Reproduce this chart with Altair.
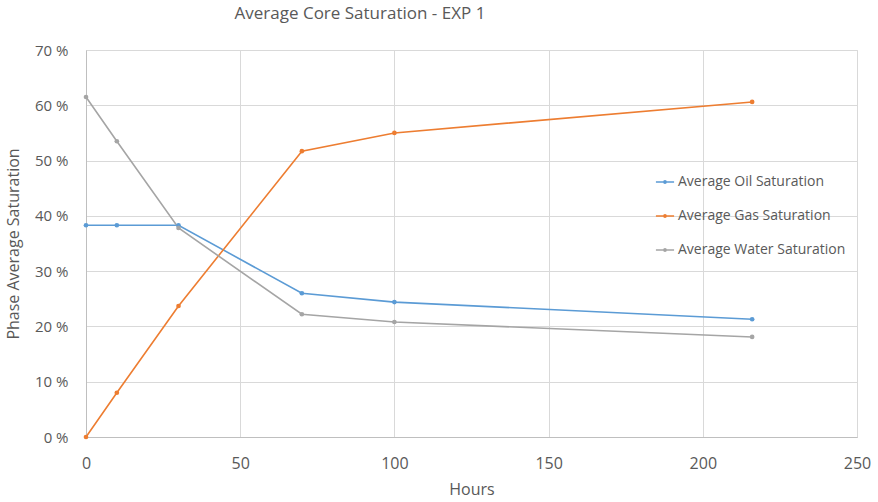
import altair as alt
import pandas as pd

hours = [0, 10, 30, 70, 100, 216]
oil = [38.3, 38.3, 38.3, 26.0, 24.4, 21.3]
gas = [0.0, 8.0, 23.7, 51.7, 55.0, 60.6]
water = [61.5, 53.5, 37.8, 22.2, 20.8, 18.1]

series_names = ["Average Oil Saturation", "Average Gas Saturation", "Average Water Saturation"]
series_colors = ["#5B9BD5", "#ED7D31", "#A5A5A5"]

rows = []
for name, vals in zip(series_names, [oil, gas, water]):
    for h, v in zip(hours, vals):
        rows.append({"Hours": h, "Saturation": v, "Series": name})
df = pd.DataFrame(rows)

FONT = "Open Sans"
TXT = "#595959"

LEGEND_SYMBOL = (
    "M-1,0L1,0"
    "M-0.12,0A0.12,0.12 0 1,0 0.12,0A0.12,0.12 0 1,0 -0.12,0Z"
)

color = alt.Color(
    "Series:N",
    scale=alt.Scale(domain=series_names, range=series_colors),
    sort=series_names,
    legend=alt.Legend(
        title=None,
        orient="none",
        legendX=569,
        legendY=122,
        symbolType=LEGEND_SYMBOL,
        symbolStrokeWidth=1.6,
        symbolSize=330,
        labelFont=FONT,
        labelFontSize=14,
        labelColor=TXT,
        labelLimit=400,
        rowPadding=17,
        labelOffset=3,
    ),
)

x = alt.X(
    "Hours:Q",
    scale=alt.Scale(domain=[0, 250], nice=False),
    axis=alt.Axis(
        values=[0, 50, 100, 150, 200, 250],
        title="Hours",
        titleFont=FONT,
        titleFontSize=16,
        titleFontWeight="normal",
        titleColor=TXT,
        titlePadding=10,
        labelFont=FONT,
        labelFontSize=16,
        labelColor=TXT,
        labelPadding=18,
        ticks=False,
        domainColor="#BFBFBF",
        gridColor="#D9D9D9",
        labelFlush=False,
    ),
)

y = alt.Y(
    "Saturation:Q",
    scale=alt.Scale(domain=[0, 70], nice=False),
    axis=alt.Axis(
        values=[0, 10, 20, 30, 40, 50, 60, 70],
        labelExpr="format(datum.value, '.0f') + ' %'",
        title="Phase Average Saturation",
        titleFont=FONT,
        titleFontSize=16,
        titleFontWeight="normal",
        titleColor=TXT,
        titlePadding=13,
        labelFont=FONT,
        labelFontSize=15,
        labelColor=TXT,
        labelPadding=18,
        ticks=False,
        domainColor="#BFBFBF",
        gridColor="#D9D9D9",
    ),
)

base = alt.Chart(df)
lines = base.mark_line(strokeWidth=1.6).encode(x=x, y=y, color=color)
points = base.mark_circle(size=22, opacity=1).encode(x=x, y=y, color=alt.Color("Series:N", scale=alt.Scale(domain=series_names, range=series_colors), legend=None))

chart = (
    alt.layer(lines, points)
    .properties(
        width=771,
        height=387,
        padding={"left": 86, "top": 50, "right": 21, "bottom": 65},
        autosize=alt.AutoSizeParams(type="none"),
        title=alt.TitleParams(
            "Average Core Saturation - EXP 1",
            anchor="start",
            dx=229,
            offset=20,
            font=FONT,
            fontSize=17,
            fontWeight="normal",
            color=TXT,
        ),
    )
    .configure_view(stroke=None)
    .configure(background="white")
)

chart.save("out.html", embed_options={"renderer": "svg", "actions": False})
